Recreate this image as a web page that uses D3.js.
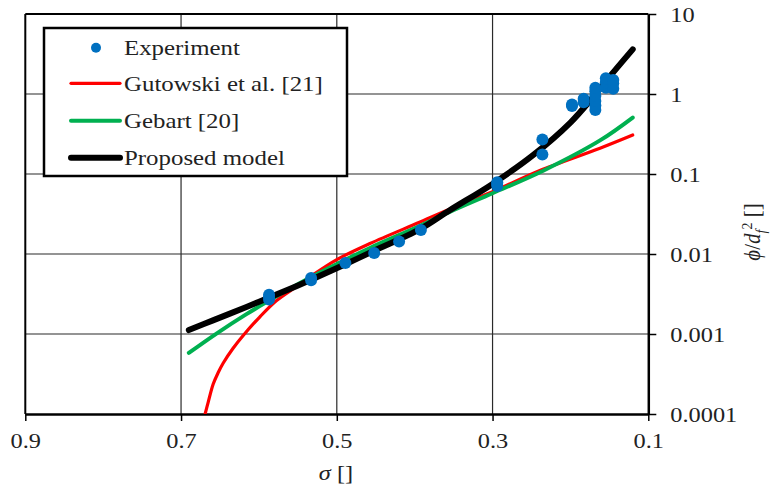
<!DOCTYPE html>
<html>
<head>
<meta charset="utf-8">
<script src="https://cdn.jsdelivr.net/npm/d3@7"></script>
<style>
  html, body { margin: 0; padding: 0; background: #fff; }
  svg { display: block; }
  text { font-family: "Liberation Serif", "Times New Roman", serif; fill: #222; }
</style>
</head>
<body>
<svg id="chart" width="771" height="485"></svg>
<script>
// ---------- DATA ----------
const xTicks = [0.9, 0.7, 0.5, 0.3, 0.1];
const xTickLabels = ["0.9", "0.7", "0.5", "0.3", "0.1"];
const yTicks = [0.0001, 0.001, 0.01, 0.1, 1, 10];
const yTickLabels = ["0.0001", "0.001", "0.01", "0.1", "1", "10"];

const seriesNames = ["Experiment", "Gutowski et al. [21]", "Gebart [20]", "Proposed model"];

// Experiment (sigma, phi/df^2)
const expSigma = [0.587, 0.587, 0.587, 0.533, 0.533, 0.489, 0.452, 0.420, 0.392,
                  0.294, 0.294, 0.294, 0.236, 0.236, 0.198, 0.198, 0.183, 0.183,
                  0.168, 0.168, 0.168, 0.168, 0.168, 0.168,
                  0.1545, 0.1545, 0.1545, 0.145, 0.145, 0.145];
const expValue = [0.0027, 0.0029, 0.0031, 0.0047, 0.0050, 0.0077, 0.0103, 0.0143, 0.0200,
                  0.071, 0.075, 0.079, 0.175, 0.27, 0.71, 0.74, 0.79, 0.87,
                  0.63, 0.72, 0.82, 0.95, 1.08, 1.2,
                  1.2, 1.4, 1.57, 1.16, 1.35, 1.5];

// Gutowski et al. [21]
const gutSigma = [0.6709, 0.6691, 0.6651, 0.6587, 0.6526, 0.6458, 0.6334, 0.6202, 0.599, 0.5773, 0.5516,
                  0.534, 0.5, 0.4575, 0.393, 0.338, 0.3, 0.24, 0.162, 0.12];
const gutValue = [0.000084, 0.0001, 0.000141, 0.000237, 0.000325, 0.000434, 0.000659, 0.000958, 0.00163, 0.00262, 0.00393,
                  0.0052, 0.0085, 0.0135, 0.0251, 0.0427, 0.060, 0.11, 0.21, 0.307];

// Gebart [20]
const gebSigma = [0.69, 0.654, 0.616, 0.59, 0.56, 0.534, 0.5, 0.4575, 0.393, 0.355, 0.3, 0.235, 0.162, 0.12];
const gebValue = [0.00058, 0.00102, 0.00177, 0.00251, 0.0037, 0.00508, 0.0075, 0.0119, 0.0225, 0.0336, 0.0575, 0.11, 0.263, 0.508];

// Proposed model
const propSigma = [0.69, 0.659, 0.616, 0.587, 0.552, 0.533, 0.489, 0.452, 0.393, 0.355, 0.3, 0.248, 0.2, 0.17, 0.15, 0.12];
const propValue = [0.00112, 0.00148, 0.00218, 0.00285, 0.00396, 0.00476, 0.00745, 0.0110, 0.0205, 0.0352, 0.0752, 0.172, 0.44, 0.94, 1.63, 3.61];

// ---------- CHART ----------
const svg = d3.select("#chart");
const mLeft = 25.3, mRight = 648.3, mTop = 14, mBottom = 414;
const SX = 1.16; // horizontal glyph stretch of the reference

const x = d3.scaleLinear().domain([0.9, 0.1]).range([mLeft, mRight]);
const y = d3.scaleLog().domain([0.0001, 10]).range([mBottom, mTop]);

// gridlines
const grid = svg.append("g");
grid.selectAll("line.v").data(xTicks.slice(1, -1)).join("line")
  .attr("x1", d => x(d)).attr("x2", d => x(d))
  .attr("y1", mTop).attr("y2", mBottom)
  .attr("stroke", "#2a2a2a").attr("stroke-width", 1.2);
grid.selectAll("line.h").data(yTicks.slice(1, -1)).join("line")
  .attr("x1", mLeft).attr("x2", mRight)
  .attr("y1", d => y(d)).attr("y2", d => y(d))
  .attr("stroke", "#2a2a2a").attr("stroke-width", 1.2);

// frame (top and left)
svg.append("line").attr("x1", mLeft).attr("x2", mRight).attr("y1", mTop).attr("y2", mTop)
  .attr("stroke", "#000").attr("stroke-width", 2);
svg.append("line").attr("x1", mLeft).attr("x2", mLeft).attr("y1", mTop).attr("y2", mBottom)
  .attr("stroke", "#000").attr("stroke-width", 2);

// axes
const xAxis = d3.axisBottom(x).tickValues(xTicks)
  .tickFormat((d, i) => xTickLabels[i]).tickSize(7).tickSizeOuter(0);
const gx = svg.append("g").attr("transform", `translate(0,${mBottom})`).call(xAxis);
gx.select(".domain").attr("stroke", "#000").attr("stroke-width", 2.5);
gx.selectAll(".tick line").attr("stroke", "#000").attr("stroke-width", 1.5);
gx.selectAll(".tick text")
  .attr("y", null).attr("dy", null)
  .attr("transform", `translate(0,34) scale(${SX},1)`)
  .attr("text-anchor", "middle")
  .style("font-size", "21px").style("font-family", "Liberation Serif, serif").attr("fill", "#222");

const yAxis = d3.axisRight(y).tickValues(yTicks)
  .tickFormat((d, i) => yTickLabels[i]).tickSize(8).tickSizeOuter(0);
const gy = svg.append("g").attr("transform", `translate(${mRight},0)`).call(yAxis);
gy.select(".domain").attr("stroke", "#000").attr("stroke-width", 2.5);
gy.selectAll(".tick line").attr("stroke", "#000").attr("stroke-width", 1.5);
gy.selectAll(".tick text")
  .attr("x", null).attr("dy", "0.35em")
  .attr("transform", `translate(22,0) scale(${SX},1)`)
  .attr("text-anchor", "start")
  .style("font-size", "21px").style("font-family", "Liberation Serif, serif").attr("fill", "#222");

// clip
svg.append("clipPath").attr("id", "plotclip").append("rect")
  .attr("x", mLeft).attr("y", mTop).attr("width", mRight - mLeft).attr("height", mBottom - mTop);

const line = d3.line().x(d => x(d[0])).y(d => y(d[1])).curve(d3.curveCatmullRom.alpha(0.5));
const plot = svg.append("g").attr("clip-path", "url(#plotclip)");

function drawLine(sig, val, color, width) {
  plot.append("path")
    .datum(sig.map((s, i) => [s, val[i]]))
    .attr("d", line)
    .attr("fill", "none").attr("stroke", color)
    .attr("stroke-width", width).attr("stroke-linecap", "round").attr("stroke-linejoin", "round");
}
drawLine(gutSigma, gutValue, "#FF0000", 3.2);
drawLine(gebSigma, gebValue, "#00B050", 4);
drawLine(propSigma, propValue, "#000000", 6);

svg.append("g").selectAll("circle")
  .data(expSigma.map((s, i) => [s, expValue[i]]))
  .join("circle")
  .attr("cx", d => x(d[0])).attr("cy", d => y(d[1]))
  .attr("r", 6).attr("fill", "#0070C0");

// legend
const lg = svg.append("g");
lg.append("rect").attr("x", 44).attr("y", 28).attr("width", 303).attr("height", 148)
  .attr("fill", "#fff").attr("stroke", "#000").attr("stroke-width", 2.5);
const rowsY = [47.7, 83.3, 120.7, 157.7];
lg.append("circle").attr("cx", 96).attr("cy", rowsY[0]).attr("r", 5).attr("fill", "#0070C0");
const legLines = [["#FF0000", 3.2], ["#00B050", 4], ["#000000", 6]];
legLines.forEach((l, i) => {
  lg.append("line").attr("x1", 71).attr("x2", 120)
    .attr("y1", rowsY[i + 1]).attr("y2", rowsY[i + 1])
    .attr("stroke", l[0]).attr("stroke-width", l[1]).attr("stroke-linecap", "round");
});
seriesNames.forEach((n, i) => {
  lg.append("text")
    .attr("transform", `translate(124,${rowsY[i] + 7.5}) scale(1.13,1)`)
    .style("font-size", "22px")
    .text(n);
});

// axis titles
const xt = svg.append("text")
  .attr("transform", `translate(336,480) scale(${SX},1)`)
  .attr("text-anchor", "middle").style("font-size", "21px");
xt.append("tspan").style("font-style", "italic").text("σ");
xt.append("tspan").text(" []");

const yt = svg.append("text")
  .attr("transform", `translate(760,232) rotate(-90) scale(1,1.1)`)
  .attr("text-anchor", "middle").style("font-size", "21px");
yt.append("tspan").style("font-style", "italic").text("ϕ");
yt.append("tspan").text("/");
yt.append("tspan").style("font-style", "italic").text("d");
yt.append("tspan").style("font-style", "italic").style("font-size", "14px").attr("dy", "5").text("f");
yt.append("tspan").style("font-size", "14px").attr("dy", "-12").text("2");
yt.append("tspan").attr("dy", "7").text(" []");
</script>
</body>
</html>
